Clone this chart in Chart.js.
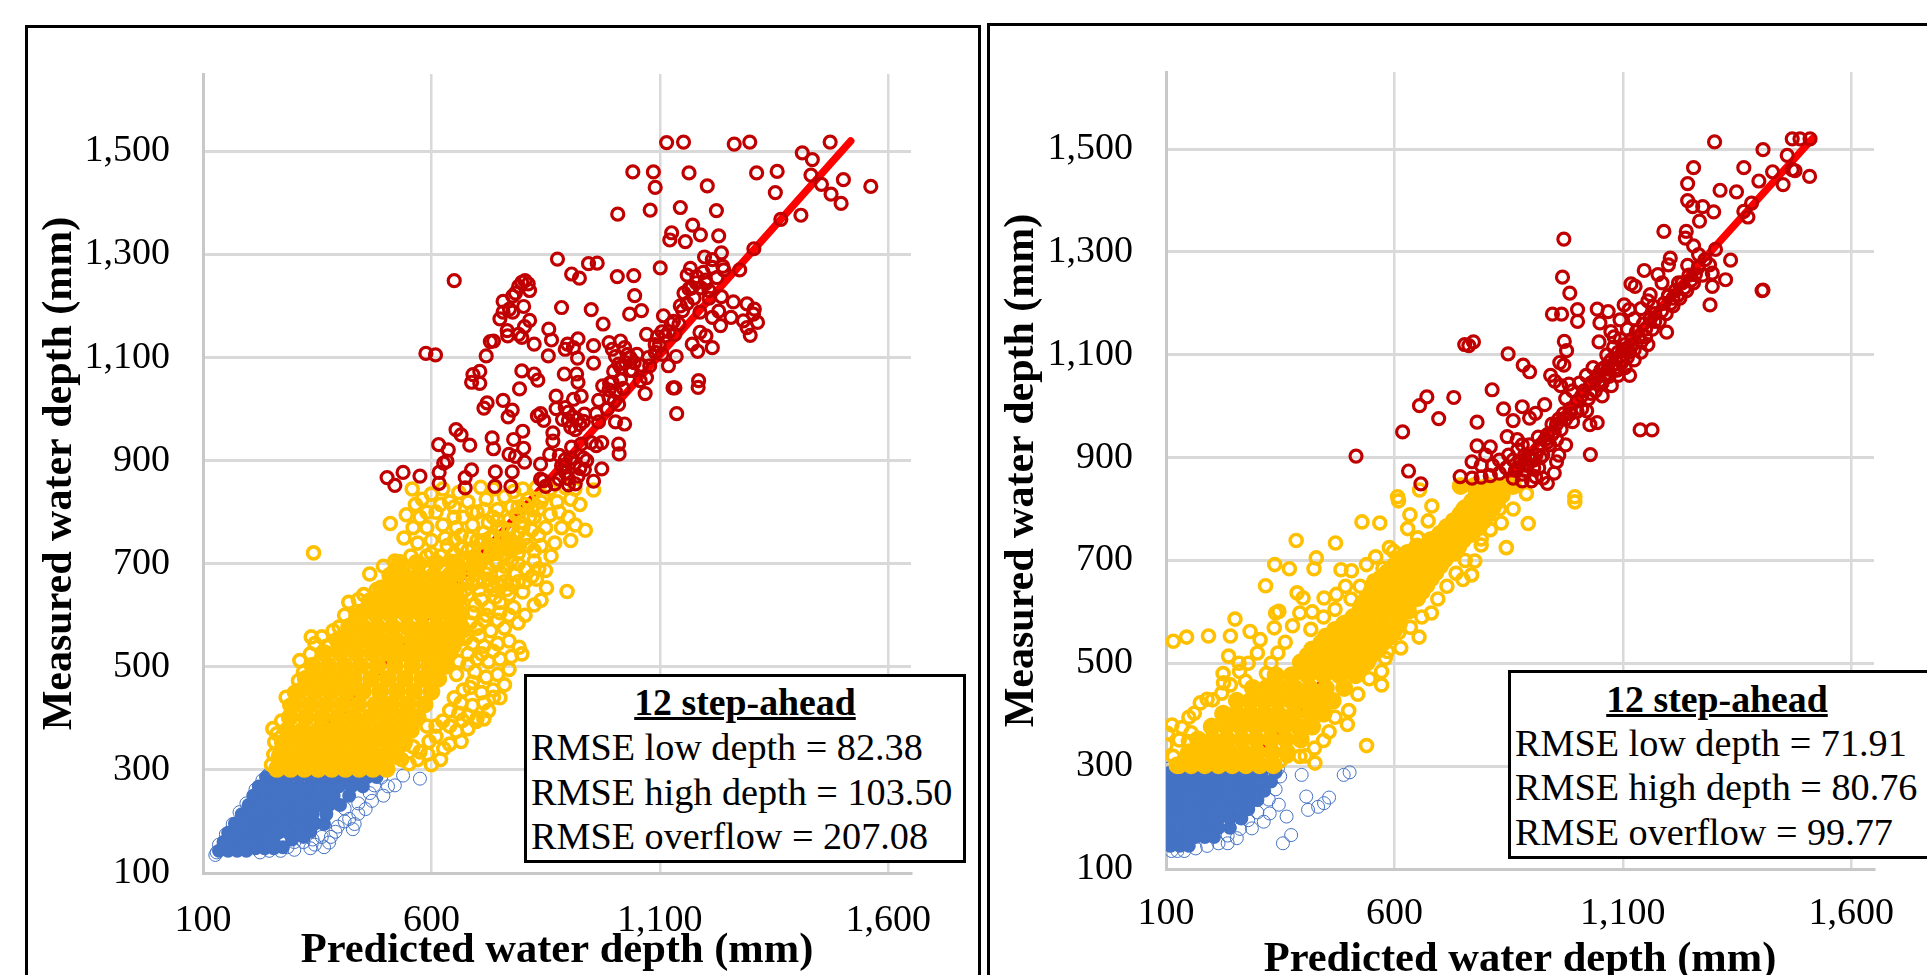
<!DOCTYPE html>
<html><head><meta charset="utf-8">
<script src="https://cdn.jsdelivr.net/npm/chart.js@4"></script>
<style>
html,body{margin:0;padding:0;width:1927px;height:975px;overflow:hidden;background:#fff}
canvas{position:absolute;top:0}
.frame{position:absolute;border:3px solid #000;box-sizing:border-box;background:#fff}
.box{position:absolute;border:3px solid #000;box-sizing:border-box;background:#fff;font-family:"Liberation Serif",serif;font-size:38.2px;color:#000;z-index:5}
.box div{position:absolute;white-space:nowrap;line-height:44px}
.box .t{left:0;right:0;text-align:center;font-weight:bold;text-decoration:underline;font-size:37.8px}
</style></head><body>
<div class="frame" style="left:25px;top:25px;width:956px;height:1000px"></div>
<div class="frame" style="left:987px;top:23px;width:1000px;height:1000px"></div>
<canvas id="c1" width="980" height="1000" style="left:0"></canvas>
<canvas id="c2" width="942" height="1000" style="left:985px"></canvas>
<div class="box" style="left:524px;top:674px;width:442px;height:189px">
<div class="t" style="top:3px">12 step-ahead</div>
<div style="left:4px;top:48px">RMSE low depth = 82.38</div>
<div style="left:4px;top:93px">RMSE high depth = 103.50</div>
<div style="left:4px;top:137px">RMSE overflow = 207.08</div>
</div>
<div class="box" style="left:1508px;top:670px;width:425px;height:189px">
<div class="t" style="top:4px;right:7px">12 step-ahead</div>
<div style="left:4px;top:48px">RMSE low depth = 71.91</div>
<div style="left:4px;top:92px">RMSE high depth = 80.76</div>
<div style="left:4px;top:137px">RMSE overflow = 99.77</div>
</div>
<script>
const xTicks=[100,600,1100,1600];
const yTicks=[100,300,500,700,900,1100,1300,1500];
const xTitle="Predicted water depth (mm)";
const yTitle="Measured water depth (mm)";

// trend lines
const leftTrend=[135,145,1518,1520];
const rightTrend=[120,145,1515,1520];

// LEFT panel: overflow (x,y pairs)
const leftOverflow=[1115,1517,1152,1518,1263,1514,1297,1518,1473,1518,1412,1497,1434,1484,1041,1460,1086,1460,1090,1430,1164,1458,1204,1433,1312,1458,1357,1461,1353,1420,1431,1454,1454,1436,1502,1445,1562,1432,1475,1417,1497,1399,1409,1376,1365,1368,1008,1378,1079,1386,1145,1391,1224,1385,1172,1357,1126,1342,1122,1328,1156,1325,1189,1338,1229,1336,1306,1311,1235,1303,1198,1295,1275,1270,876,1291,907,1262,924,1254,944,1282,963,1283,1007,1257,1043,1259,1101,1274,650,1249,
1160,1260,1181,1257,1167,1273,1201,1244,1153,1225,1164,1233,1208,1230,1208,1215,1235,1218,1215,1275,1238,1277,1261,1208,1291,1204,1307,1194,1305,1184,1314,1168,1283,1171,1291,1158,1298,1143,1256,1178,1233,1162,1229,1190,1215,1178,1188,1188,1150,1191,1108,1181,1060,1191,1034,1184,1045,1220,950,1193,885,1197,976,1165,1071,1145,1142,1165,1188,1149,1201,1142,1171,1126,1183,1112,1215,1119,1133,1145,1112,1142,1099,1123,1105,1106,1136,1102,1119,1084,1078,1084,1071,1061,1057,1055,1068,1030,1129,1041,1133,1041,1185,1055,1184,1042,1137,991,
798,1246,812,1243,805,1249,791,1238,815,1230,784,1225,778,1219,757,1209,802,1199,771,1194,757,1188,778,1188,750,1175,815,1172,804,1160,766,1152,767,1142,791,1145,798,1139,729,1131,736,1132,720,1103,825,1126,857,1155,863,1134,898,1126,893,1116,911,1119,921,1136,920,1099,856,1103,955,1123,989,1129,996,1116,1014,1132,1023,1119,1003,1102,1030,1106,1050,1106,1044,1090,1010,1087,955,1089,588,1108,609,1105,
798,1074,825,1068,833,1056,706,1073,691,1067,688,1052,706,1050,793,1039,891,1068,918,1068,921,1052,999,1073,1014,1057,996,1052,1003,1034,989,1037,873,1025,928,1025,911,1019,966,1017,989,1022,1010,1009,757,1017,722,1012,715,1002,777,998,768,985,873,1001,893,1003,832,987,839,991,900,994,900,978,920,980,933,976,887,980,846,978,961,991,966,975,1003,975,1023,971,654,960,665,950,684,930,616,931,637,921,634,899,627,895,733,944,736,923,800,957,780,941,802,924,770,912,784,908,804,897,866,954,866,938,859,912,839,893,893,902,907,926,928,932,933,905,961,929,973,935,1010,932,1011,913,973,884,893,892,935,883,921,870,893,877,880,864,845,861,839,864,777,878,740,878,688,882,674,867,617,877,617,856,575,870,538,877,503,867,520,852,674,847,739,850,774,850,900,853,
905,965,915,960,925,970,910,985,935,990,880,910,885,890,905,905,915,895,925,885,900,865,915,855,940,900,950,935,985,1000,1000,1015,1020,1040,1035,1075,1060,1085,1075,1100,1090,1125,1095,1140,1120,1150,1130,1170,1175,1215,1190,1235,1200,1250,1180,1245,1170,1235,1195,1265,1160,1205,1145,1200,1125,1165,1105,1150,1090,1110,1040,1075,1025,1090,955,860,870,855,850,850,990,1050,975,1045,1015,1080,1035,1100,1240,1270,1225,1255,1215,1290];

// LEFT panel: high depth
const leftHigh=[558,845,565,815,575,790,600,835,625,845,640,820,610,800,660,838,680,820,708,848,720,825,700,800,736,845,760,830,745,805,780,840,800,845,811,825,790,810,830,848,845,830,860,845,875,820,893,848,905,825,914,845,925,815,955,843,880,800,900,790,860,795,835,805,815,790,770,785,725,780,690,775,650,790,625,775,590,770,560,770,540,750,510,778,570,740,600,745,630,750,665,755,700,745,735,755,760,750,790,760,820,765,850,770,885,770,915,775,937,765,905,745,870,740,840,735,810,735,775,725,745,720,715,720,680,725,650,720,620,715,590,715,555,715,520,705,495,695,465,680,342,721,530,680,560,685,590,685,625,690,660,695,695,695,725,690,760,695,790,700,825,705,850,687,862,715,820,675,790,665,760,665,730,660,700,665,665,665,635,660,600,655,570,650,540,650,505,655,480,650,452,640,419,625,435,600,470,620,500,625,530,620,560,625,590,625,620,630,650,635,680,640,710,630,740,635,770,640,800,645,852,653,897,646,840,629,805,600,825,620,780,615,750,605,720,600,690,605,660,600,790,585,760,575,730,570,700,575,670,570,770,550,745,545,715,540,690,545,792,538,798,525,775,520,750,515,725,510,700,515,770,495,745,485,720,480,695,490,760,465,735,455,710,450,685,460,736,441,715,430,690,425,665,430,750,440,725,415,700,400,715,399,698,394,668,396,680,380,655,375,640,385,665,355,640,350,627,341,610,365,592,331,600,310,551,312,575,335,620,320,
253,380,257,354,282,441,309,473,312,512,337,558,360,558,398,577,250,310,255,330,262,370,272,395,290,425,300,450,320,490,335,525,345,545,370,540,385,570,410,600,420,580,440,630,405,545,
545,795,580,825,590,800,620,815,650,810,670,790,655,770,690,800,715,805,735,790,755,770,775,810,795,780,825,790,650,745,685,750,715,745,745,770,775,745,805,750,835,755,600,720,635,735,665,730,695,715,730,735,760,730,790,720,825,725,575,700,610,700,640,705,675,705,710,705,745,700,775,705,805,690,835,690,695,680,725,670,755,680,785,680,655,680,625,670,595,665,765,650,735,650,705,650,675,650,645,650,750,625,725,615,695,620,665,615,640,615,715,590,685,585,655,585,745,590,770,600,705,560,675,555,650,540,735,530,710,525,680,525,660,510,680,505,655,485,690,470,670,455,650,440,640,415,680,405,660,410,625,395,610,385,595,355,570,320,535,320,560,345,590,385,
655,690,668,710,680,700,690,730,705,725,715,760,728,750,745,785,755,745,770,765,785,795,805,815,820,805,840,820,800,770,780,735,760,715,740,705,720,680,700,690,680,670,660,680,648,665,640,640,665,640,690,660,715,665,745,660,775,660,805,665,830,670];

// LEFT panel: dense solid part of high depth
const leftHighCore=[262,302,292,302,322,302,352,302,382,302,412,302,442,302,472,302,502,302,268,327,298,327,330,327,362,327,395,327,428,327,460,327,492,327,523,327,275,352,308,352,340,352,372,352,405,352,438,352,470,352,505,352,540,352,285,377,318,377,352,377,385,377,418,377,452,377,488,377,522,377,555,377,290,402,325,402,360,402,395,402,430,402,465,402,500,402,535,402,570,402,300,427,335,427,370,427,405,427,440,427,478,427,512,427,548,427,585,427,310,452,345,452,380,452,415,452,450,452,488,452,525,452,562,452,600,452,325,477,360,477,395,477,430,477,468,477,505,477,542,477,580,477,615,477,340,502,375,502,410,502,445,502,482,502,520,502,558,502,595,502,630,502,365,527,400,527,435,527,470,527,505,527,540,527,575,527,610,527,640,527,395,552,425,552,458,552,490,552,522,552,558,552,592,552,625,552,655,552,420,577,450,577,482,577,515,577,548,577,580,577,612,577,640,577,665,577,445,602,478,602,510,602,545,602,578,602,610,602,640,602,665,602,465,627,498,627,530,627,562,627,595,627,625,627,655,627,490,652,520,652,550,652,580,652,612,652,640,652,510,677,540,677,572,677,605,677,640,677,530,702,568,702,610,702,650,702,700,702,735,722,770,745,790,735];

// LEFT panel: low depth
const leftLow=[575,283,538,289,520,270,505,268,495,250,470,240,456,224,440,215,428,185,432,195,410,200,376,159,365,150,345,155,335,148,300,145,285,150,270,143,245,143,225,140,410,225,390,180,380,170,475,270,490,285,465,255,440,235,420,205,395,190,360,170,340,165,320,160,300,160,242,290,230,280,215,262,195,235,180,218,165,195,150,175,135,155,127,135,130,140];
const leftLowCore=[135,143,155,143,175,143,195,143,215,148,235,148,255,148,275,150,145,160,167,160,189,160,211,160,233,160,255,160,295,165,320,170,155,178,177,178,199,178,221,178,243,178,265,178,287,178,310,178,335,180,170,196,192,196,214,196,236,196,258,196,280,196,302,196,324,196,345,196,365,195,185,214,207,214,229,214,251,214,273,214,295,214,317,214,340,214,370,214,200,232,222,232,244,232,266,232,288,232,310,232,332,232,354,232,376,232,400,232,210,250,232,250,254,250,276,250,298,250,320,250,342,250,364,250,386,250,420,250,222,268,244,268,266,268,288,268,310,268,332,268,354,268,376,268,398,268,425,268,450,268,238,286,260,286,285,286,310,286,335,286,360,286,385,286,410,286,435,286,460,286,480,286];

// RIGHT panel: overflow
const rightOverflow=[1301,1514,1407,1499,1471,1520,1488,1520,1510,1520,1460,1488,1471,1460,1477,1458,1509,1447,1428,1456,1398,1438,1451,1431,1365,1464,1255,1464,1242,1433,1313,1420,1349,1417,1242,1400,1253,1388,1275,1388,1299,1378,1268,1360,1382,1395,1365,1379,1374,1368,1190,1340,1239,1340,1237,1327,1255,1312,1266,1295,1303,1305,1336,1284,1405,1225,1407,1226,971,1325,968,1251,984,1220,1204,1288,1200,1275,1242,1274,1147,1264,1118,1238,1127,1233,1177,1256,1186,1240,1222,1240,1259,1256,1296,1259,1325,1246,1296,1233,1291,1197,1196,1144,1160,1217,1167,1194,1200,1214,
946,1179,966,1179,1001,1188,1001,1165,1044,1189,1068,1184,1050,1162,1103,1197,1114,1188,1094,1168,1074,1145,1081,1135,1048,1125,972,1126,977,1108,849,1102,754,1120,773,1125,763,1118,882,1080,896,1067,962,1085,971,1080,942,1060,951,1049,964,1040,982,1043,814,1032,730,1017,671,1018,655,1001,697,976,618,950,781,969,839,995,860,972,880,999,929,1003,896,977,909,986,1021,991,1028,964,1044,968,1138,954,1164,954,1029,906,516,903,631,874,658,849,744,863,781,923,810,921,847,941,869,935,955,892,916,880,909,863,770,892,830,895,
860,860,870,880,880,868,890,885,900,900,885,905,905,880,915,915,925,905,930,935,940,925,950,950,955,965,965,955,975,975,985,995,990,970,1000,1010,1010,995,1015,1030,1025,1015,1030,1045,1040,1030,1045,1060,1055,1045,1060,1075,1070,1058,1075,1090,1085,1075,1090,1105,1100,1090,1105,1120,1115,1105,1120,1130,1125,1110,1130,1145,1140,1125,1145,1160,1150,1135,1160,1170,1165,1150,1170,1180,1180,1165,1190,1200,1195,1180,1200,1215,1210,1195,1215,1225,1225,1210,1230,1240,1240,1225,1245,1255,1255,1240,1265,1270,1275,1255,1280,1285,1290,1275,1035,1075,1020,1060,1005,1045,990,1030,975,1015,1065,1100,1080,1115,1095,1130,1110,1150,1125,1170,1140,1190,1155,1205,1055,1020,1075,1040,1090,1060,1105,1075,1115,1060,1125,1090,1140,1105,1155,1120,935,945,915,940,895,925,880,925,860,895,845,880,830,870,810,865,790,862,770,860,790,885,815,885,800,905,850,905,870,915,935,850,925,860,900,855,880,855,950,870,960,905,975,925,
1050,1050,1060,1060,1068,1072,1078,1080,1085,1092,1095,1098,1100,1110,1108,1112,1040,1052,1048,1042,1070,1085,1052,1070,1088,1070,1098,1085,1110,1095,1120,1118,1135,1135,1150,1150,1170,1165,1185,1185,1205,1200,1220,1215,1000,990,985,985,970,985,960,975,945,965,935,930,920,925,910,905,895,900,875,890,865,875,885,875,905,895,920,900,1010,1020,1030,1025,945,945,955,935,1210,1210,1235,1230,1250,1245];

// RIGHT panel: high depth
const rightHigh=[116,543,145,551,193,553,241,553,237,514,284,562,251,586,318,651,338,692,370,684,385,739,471,734,429,705,424,684,483,682,506,680,529,775,568,773,634,789,629,762,682,806,674,777,609,816,995,814,893,772,845,725,790,742,776,699,769,672,750,663,681,598,654,551,614,530,585,523,572,484,572,458,539,340,497,381,500,408,457,367,426,306,393,319,340,598,377,573,337,569,361,541,306,546,300,520,387,637,400,627,347,601,393,598,417,566,446,627,493,650,473,634,539,692,559,707,589,725,598,718,644,718,651,744,834,773,113,380,103,364,100,341,129,351,149,348,116,319,129,300,162,403,175,423,202,429,226,462,261,484,222,442,241,458,274,465,607,824,655,837,889,830,995,824,
420,600,445,590,470,605,505,625,525,650,555,660,575,685,610,695,625,715,700,745,735,760,750,800,770,790,800,785,830,800,860,800,810,760,790,730,755,700,735,675,715,650,695,625,660,590,635,570,610,560,580,510,545,470,520,440,470,395,445,350,425,335,405,320,365,320,350,310,320,480,330,500,345,520,280,500,260,500,225,480,190,430,150,395,135,375,155,365];

const rightHighCore=[125,302,155,302,185,302,215,302,245,302,275,302,305,302,335,302,150,327,180,327,210,327,240,327,270,327,300,327,332,327,365,327,170,352,202,352,234,352,266,352,298,352,330,352,362,352,395,352,200,377,232,377,264,377,296,377,328,377,358,377,390,377,420,377,225,402,255,402,285,402,315,402,345,402,380,402,415,402,445,402,255,427,285,427,315,427,345,427,375,427,405,427,435,427,465,427,290,452,320,452,350,452,382,452,415,452,450,452,490,452,340,477,375,477,410,477,445,477,480,477,515,477,395,502,428,502,460,502,495,502,540,502,420,527,455,527,490,527,530,527,565,527,450,552,485,552,520,552,555,552,590,552,490,577,525,577,560,577,610,577,525,602,555,602,590,602,630,602,540,627,575,627,610,627,650,627,555,652,590,652,630,652,670,652,585,677,620,677,655,677,690,677,610,702,645,702,680,702,710,702,650,727,680,727,710,727,740,727,700,752,735,752,770,752,730,777,765,777,795,777,755,802,785,802,815,802,780,827,810,827,835,827,745,845,775,845,805,845,835,845,860,845,
400,490,435,490,470,490,500,490,525,490,410,515,445,515,475,515,510,515,548,515,440,540,470,540,505,540,540,540,575,540,470,565,505,565,540,565,575,565,600,565,510,590,540,590,575,590,610,590,530,615,560,615,595,615,630,615,550,640,585,640,620,640,660,640,570,665,605,665,640,665,680,665,600,690,635,690,670,690,700,690,630,715,665,715,700,715,730,715,680,740,715,740,750,740,715,765,750,765,785,765,745,790,775,790,805,790,770,815,800,815,825,815,800,838,830,838];

// RIGHT panel: low depth
const rightLow=[397,283,489,283,502,288,407,241,457,239,446,228,433,221,411,215,364,202,374,166,356,150,347,225,327,208,314,192,288,179,255,160,100,295,102,270,100,245,100,220,100,195,100,170,102,150,112,135,125,135,140,135,165,140,190,145,215,150,235,150,350,280,340,255,325,235,300,210,280,195,262,178,235,165,320,275,345,295];
const rightLowCore=[110,145,130,145,150,145,105,162,125,162,145,162,165,162,185,162,205,162,105,180,127,180,149,180,171,180,193,180,215,180,240,180,105,198,127,198,149,198,171,198,193,198,215,198,240,198,265,198,105,216,127,216,149,216,171,216,193,216,215,216,237,216,259,216,280,216,105,234,127,234,149,234,171,234,193,234,215,234,237,234,259,234,280,234,300,234,105,252,127,252,149,252,171,252,193,252,215,252,237,252,259,252,281,252,300,252,315,252,105,270,127,270,149,270,171,270,193,270,215,270,237,270,259,270,281,270,305,270,330,270,110,288,132,288,154,288,176,288,198,288,220,288,242,288,264,288,286,288,310,288,340,288];

const pairs=a=>{const o=[];for(let i=0;i<a.length;i+=2)o.push({x:a[i],y:a[i+1]});return o;};
const RED='#c00000',YEL='#ffc000',BLU='#4472c4';
function ring(data,color,r,w,order){return {type:'scatter',data:pairs(data),showLine:false,pointStyle:'circle',pointRadius:r,pointHoverRadius:r,pointBorderWidth:w,pointBorderColor:color,pointBackgroundColor:'rgba(0,0,0,0)',order};}
function disc(data,color,r,order){return {type:'scatter',data:pairs(data),showLine:false,pointStyle:'circle',pointRadius:r,pointHoverRadius:r,pointBorderWidth:2,pointBorderColor:color,pointBackgroundColor:color,order};}

function panel(id,o){
 new Chart(document.getElementById(id),{
  data:{datasets:[
   {type:'line',data:pairs(o.trend),borderColor:'#ff0000',borderWidth:7.5,pointRadius:0,fill:false,tension:0,order:9,borderCapStyle:'round'},
   disc(o.lowCore,BLU,6,8),ring(o.low,BLU,6.5,1,7),
   disc(o.highCore,YEL,8,6),ring(o.high,YEL,6,3.6,5),
   ring(o.over,RED,6,3.2,4)
  ]},
  options:{responsive:false,animation:false,devicePixelRatio:1,events:[],
   layout:{padding:{left:0,top:o.top,right:o.right,bottom:0}},
   plugins:{legend:{display:false},tooltip:{enabled:false},title:{display:false}},
   scales:{
    x:{type:'linear',min:100,max:1650,
     afterBuildTicks:s=>{s.ticks=xTicks.map(v=>({value:v}));},
     afterFit:s=>{s.height=1000-o.bottomY;},
     grid:{color:'#d9d9d9',lineWidth:2.5,drawTicks:false},
     border:{display:true,color:'#c8c8c8',width:3},
     ticks:{font:{family:'"Liberation Serif"',size:38},color:'#000',padding:o.xTickPad,maxRotation:0,autoSkip:false,callback:v=>v.toLocaleString('en-US')},
     title:{display:true,text:xTitle,color:'#000',font:{family:'"Liberation Serif"',size:42.5,weight:'bold'},padding:{top:0,bottom:o.xTitlePad}}},
    y:{type:'linear',min:100,max:1650,
     afterBuildTicks:s=>{s.ticks=yTicks.map(v=>({value:v}));},
     afterFit:s=>{s.width=o.left;},
     grid:{color:'#d9d9d9',lineWidth:3,drawTicks:false},
     border:{display:true,color:'#c8c8c8',width:3},
     ticks:{font:{family:'"Liberation Serif"',size:38},color:'#000',padding:33,autoSkip:false,callback:v=>v.toLocaleString('en-US')},
     title:{display:true,text:yTitle,color:'#000',font:{family:'"Liberation Serif"',size:42,weight:'bold'},padding:{top:o.yTitlePad,bottom:0}}}
   }
  }
 });
}
panel('c1',{trend:leftTrend,over:leftOverflow,high:leftHigh,highCore:leftHighCore,low:leftLow,lowCore:leftLowCore,left:203,right:980-911,top:74,bottomY:873,xTitlePad:23,yTitlePad:35,xTickPad:25});
panel('c2',{trend:rightTrend,over:rightOverflow,high:rightHigh,highCore:rightHighCore,low:rightLow,lowCore:rightLowCore,left:181,right:942-889,top:72,bottomY:869,xTitlePad:14,yTitlePad:12,xTickPad:22});
</script>
</body></html>
